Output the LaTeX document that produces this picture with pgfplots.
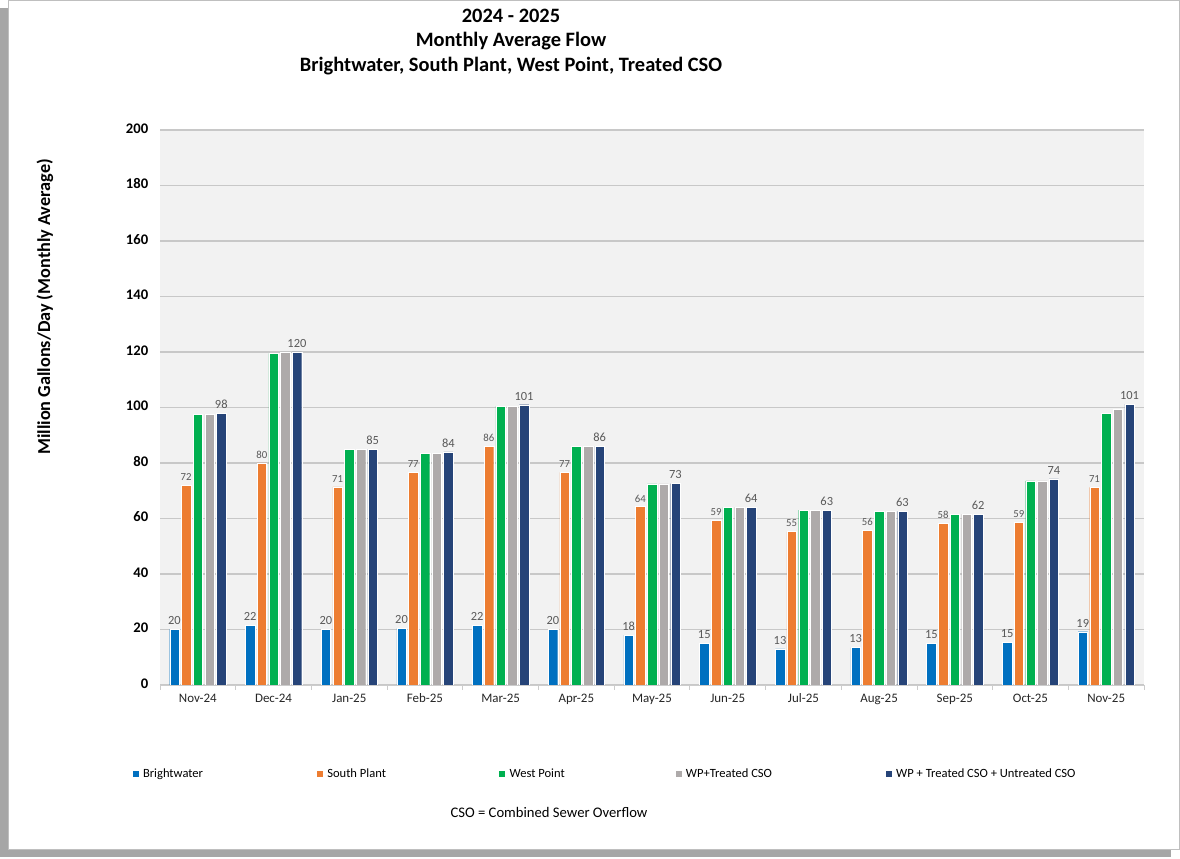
\documentclass[border=0pt]{standalone}
\usepackage{fontspec}
\setmainfont{Carlito}
\usepackage{pgfplots}
\usepackage{pgfplotstable}
\pgfplotsset{compat=1.18}

\definecolor{cBW}{HTML}{0070C0}
\definecolor{cSP}{HTML}{ED7D31}
\definecolor{cWP}{HTML}{00B050}
\definecolor{cWT}{HTML}{AEAAAA}
\definecolor{cAll}{HTML}{264478}
\definecolor{plotbg}{HTML}{F2F2F2}
\definecolor{gridc}{HTML}{C8C8C8}
\definecolor{labc}{HTML}{595959}

% monthly average flow, MGD
\pgfplotstableread{
x bw   bwl sp   spl wp    wpt   all   alll
0 20.0 20  72.0 72  97.5  97.5  98.0  98
1 21.6 22  80.0 80  119.5 120.0 120.0 120
2 20.0 20  71.4 71  85.0  85.0  85.0  85
3 20.4 20  76.6 77  83.5  83.5  84.0  84
4 21.6 22  86.0 86  100.5 100.5 101.0 101
5 20.0 20  76.6 77  86.0  86.0  86.0  86
6 18.0 18  64.3 64  72.5  72.5  72.6  73
7 15.0 15  59.4 59  64.0  64.0  64.0  64
8 13.0 13  55.3 55  63.0  63.0  63.0  63
9 13.5 13  55.7 56  62.6  62.6  62.6  63
10 15.0 15  58.3 58  61.5  61.5  61.6  62
11 15.4 15  58.7 59  73.6  73.6  74.3  74
12 19.2 19  71.2 71  97.8  99.3  101.2 101
}\flow

\begin{document}
\begin{tikzpicture}[x=1bp,y=1bp]
\path[use as bounding box] (0,0) rectangle (1180,859);
\fill[black!35] (0,2) rectangle (1171,851);
\filldraw[fill=white,draw=black!25] (8,10) rectangle (1179.5,859);

\node[align=center,font=\bfseries\fontsize{20.5}{25}\selectfont] at (511,817)
  {2024 - 2025\\Monthly Average Flow\\Brightwater, South Plant, West Point, Treated CSO};
\node[rotate=90,font=\bfseries\fontsize{18.3}{20}\selectfont] at (45,552)
  {Million Gallons/Day (Monthly Average)};
\node[font=\fontsize{14.7}{17}\selectfont] at (549,47) {CSO = Combined Sewer Overflow};

\begin{axis}[
  at={(160bp,174bp)}, anchor=south west,
  scale only axis, width=984bp, height=555bp,
  ybar=2.2bp, bar width=9.5bp,
  xmin=-0.5, xmax=12.5, ymin=0, ymax=200,
  ytick={0,20,...,200},
  xtick={0,...,12},
  xticklabels={Nov-24,Dec-24,Jan-25,Feb-25,Mar-25,Apr-25,May-25,Jun-25,Jul-25,Aug-25,Sep-25,Oct-25,Nov-25},
  minor xtick={-0.5,0.5,...,12.5},
  axis x line*=bottom, axis y line*=left,
  x axis line style={draw=black!20,line width=0.8bp,-},
  y axis line style={draw=none},
  major x tick style={draw=none},
  minor x tick style={draw=black!20,line width=0.8bp},
  minor tick length=5bp, tick align=outside,
  ytick style={draw=none},
  ymajorgrids, major grid style={gridc,line width=1.2bp},
  axis background/.style={fill=plotbg},
  /pgf/number format/assume math mode=true,
  typeset ticklabels with strut,
  yticklabel style={font=\bfseries\fontsize{14.7}{17}\selectfont,xshift=-4bp},
  xticklabel style={font=\fontsize{13}{15}\selectfont,text=black!85,yshift=1bp},
  nodes near coords style={font=\fontsize{12.5}{14}\selectfont,text=labc,yshift=1bp},
  legend image code/.code={\fill[#1] (0bp,-3.5bp) rectangle (7bp,3.5bp);},
  legend columns=5,
  legend style={at={(-0.032,-0.160)},anchor=west,draw=none,fill=none,
    font=\fontsize{12.6}{15}\selectfont,
    nodes={inner sep=0pt,anchor=west},
    /tikz/every odd column/.append style={column sep=4bp},
    /tikz/every even column/.append style={column sep=0bp}},
  legend cell align=left,
]
\addplot[fill=cBW,draw=white,line width=0.3bp,point meta=explicit symbolic,nodes near coords]
  table[x=x,y=bw,meta=bwl]{\flow};
\addplot[fill=cSP,draw=white,line width=0.3bp,point meta=explicit symbolic,nodes near coords,
  nodes near coords style={font=\fontsize{10.8}{13}\selectfont}]
  table[x=x,y=sp,meta=spl]{\flow};
\addplot[fill=cWP,draw=white,line width=0.3bp]
  table[x=x,y=wp]{\flow};
\addplot[fill=cWT,draw=white,line width=0.3bp]
  table[x=x,y=wpt]{\flow};
\addplot[fill=cAll,draw=white,line width=0.3bp,point meta=explicit symbolic,nodes near coords]
  table[x=x,y=all,meta=alll]{\flow};
\legend{\makebox[173bp][l]{Brightwater},\makebox[171bp][l]{South Plant},
  \makebox[165bp][l]{West Point},\makebox[199bp][l]{WP+Treated CSO},
  WP + Treated CSO + Untreated CSO}
\end{axis}
\end{tikzpicture}
\end{document}
